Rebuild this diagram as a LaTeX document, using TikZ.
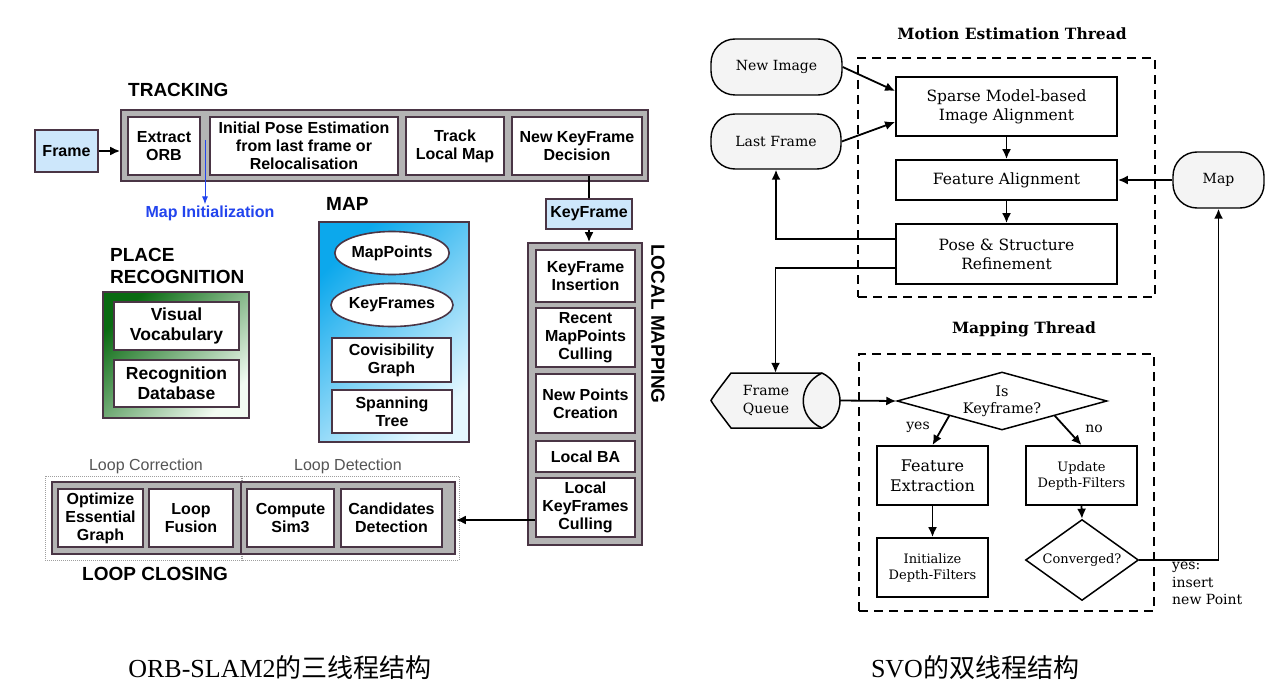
\documentclass[tikz,border=0pt]{standalone}
\usepackage{fontspec}
\setmainfont{Liberation Serif}
\newfontfamily\arial{Liberation Sans}
\newfontfamily\dvs{DejaVu Serif}
\newfontfamily\cjk{Noto Sans CJK SC}
\usetikzlibrary{arrows.meta,shapes.geometric,calc}
\definecolor{bord}{HTML}{4A3545}
\definecolor{cgray}{HTML}{B4B4B4}
\definecolor{kfblue}{HTML}{CDE7FB}
\definecolor{mapblue}{HTML}{0CA8EC}
\definecolor{maplight}{HTML}{E4F7FF}
\definecolor{pgreen}{HTML}{0A6A12}
\definecolor{pglight}{HTML}{F2FBF2}
\definecolor{miblue}{HTML}{2244EE}
\definecolor{lgray}{HTML}{555555}
\definecolor{qfill}{HTML}{F4F4F4}
\newcommand\orbf{\arial\bfseries\fontsize{16}{18}\selectfont}
\newcommand\orbbig{\arial\bfseries\fontsize{17.5}{20}\selectfont}
\newcommand\svof{\dvs\fontsize{15.5}{19}\selectfont}
\newcommand\svosm{\dvs\fontsize{13}{16}\selectfont}
\tikzset{
  cont/.style={draw=bord, line width=1.6pt, fill=cgray, inner sep=0pt},
  obox/.style={draw=bord, line width=1.6pt, fill=white, inner sep=0pt, align=center, font=\orbf},
  bluebox/.style={obox, fill=kfblue},
  ttl/.style={font=\arial\bfseries\fontsize{19}{22}\selectfont, inner sep=0pt, align=left},
  arr/.style={-{Latex[length=10pt,width=9pt]}, line width=2.2pt},
  miarr/.style={-{Latex[length=8pt,width=6pt]}, line width=0.9pt, miblue},
  sbox/.style={draw, line width=1.8pt, fill=white, align=center, inner sep=0pt, font=\svof},
  term/.style={draw, line width=1.4pt, fill=qfill, rounded corners=24pt, align=center, inner sep=0pt, font=\dvs\fontsize{14}{17}\selectfont},
  sarr/.style={-{Latex[length=10pt,width=9pt]}, line width=1.8pt},
  dbox/.style={draw, line width=1.8pt, dash pattern=on 9pt off 6pt, inner sep=0pt},
  dia/.style={diamond, draw, line width=1.5pt, fill=white, inner sep=0pt, align=center, font=\svosm},
  svolbl/.style={font=\dvs\fontsize{14}{17.5}\selectfont, inner sep=0pt, align=left},
  svottl/.style={font=\dvs\bfseries\fontsize{15.5}{18}\selectfont, inner sep=0pt},
  dotbox/.style={draw=gray!75, densely dotted, line width=1pt, inner sep=0pt},
  captxt/.style={font=\fontsize{26}{30}\selectfont, inner sep=0pt}
}
\begin{document}
\begin{tikzpicture}[x=1pt,y=-1pt]
\path[fill=white] (0,0) rectangle (1281,687);
\useasboundingbox (0,0) rectangle (1281,687);

% ================= ORB-SLAM2 =================
% TRACKING
\node[ttl, anchor=west] (tracklbl) at (128,90) {TRACKING};
\node[cont, minimum width=527pt, minimum height=71pt] (track) at (384.5,145.5) {};
\node[obox, minimum width=72pt, minimum height=58pt] (extract) at (164,146) {Extract\\ORB};
\node[obox, minimum width=188pt, minimum height=58pt] (initpose) at (304,146) {Initial Pose Estimation\\from last frame or\\Relocalisation};
\node[obox, minimum width=98pt, minimum height=58pt] (tracklm) at (455,146) {Track\\Local Map};
\node[obox, minimum width=130pt, minimum height=58pt] (nkfd) at (577,146) {New KeyFrame\\Decision};
\node[bluebox, minimum width=63pt, minimum height=42pt] (frame) at (66.5,151) {Frame};
\draw[arr] (frame.east) -- (frame.east -| track.west);

% Map initialization
\coordinate (mi0) at (205,140);
\node[font=\orbf, text=miblue, inner sep=1pt] (mitext) at (210,213) {Map Initialization};
\draw[miarr] (mi0) -- (mi0 |- mitext.north);

% KeyFrame
\node[bluebox, minimum width=86pt, minimum height=30pt] (kf) at (589,214) {KeyFrame};
\draw[line width=2.2pt] (kf.north |- nkfd.south) -- (kf.north);

% LOCAL MAPPING
\node[cont, minimum width=114pt, minimum height=302pt] (lm) at (585,394) {};
\draw[arr] (kf.south) -- (kf.south |- lm.north);
\node[obox, minimum width=99pt, minimum height=52pt] (kfi) at (585.5,276) {KeyFrame\\Insertion};
\node[obox, minimum width=99pt, minimum height=59pt] (rmc) at (585.5,337.5) {Recent\\MapPoints\\Culling};
\node[obox, minimum width=99pt, minimum height=59pt] (npc) at (585.5,403.5) {New Points\\Creation};
\node[obox, minimum width=99pt, minimum height=31pt] (lba) at (585.5,456.5) {Local BA};
\node[obox, minimum width=99pt, minimum height=59pt] (lkc) at (585.5,507.5) {Local\\KeyFrames\\Culling};
\node[ttl, rotate=-90] (lmlbl) at (658,324) {LOCAL MAPPING};

% LOOP CLOSING
\node[dotbox, minimum width=197pt, minimum height=84pt] (lcbox) at (143.5,518) {};
\node[dotbox, minimum width=218pt, minimum height=84pt] (ldbox) at (350,518) {};
\node[cont, minimum width=403pt, minimum height=72pt] (lcgray) at (253.5,518) {};
\draw[bord, line width=1.6pt] (241,482) -- (241,554);
\node[obox, minimum width=85pt, minimum height=58pt] (oeg) at (100.5,518) {Optimize\\Essential\\Graph};
\node[obox, minimum width=84pt, minimum height=58pt] (lf) at (191,518) {Loop\\Fusion};
\node[obox, minimum width=87pt, minimum height=58pt] (cs3) at (290.5,518) {Compute\\Sim3};
\node[obox, minimum width=101pt, minimum height=58pt] (cd) at (391.5,518) {Candidates\\Detection};
\node[font=\arial\fontsize{16}{18}\selectfont, text=lgray, inner sep=0pt] (lclbl) at (146,466) {Loop Correction};
\node[font=\arial\fontsize{16}{18}\selectfont, text=lgray, inner sep=0pt] (ldlbl) at (348,466) {Loop Detection};
\node[ttl, anchor=west] (lclosing) at (82,574) {LOOP CLOSING};
\draw[arr] ([yshift=-12.5pt]lkc.west) -- ([yshift=-12.5pt]lkc.west -| lcgray.east);

% PLACE RECOGNITION
\node[ttl, anchor=west] (prlbl) at (110,266) {PLACE\\RECOGNITION};
\node[draw=bord, line width=1.6pt, top color=pgreen, bottom color=pglight, shading angle=45, minimum width=146pt, minimum height=126pt, inner sep=0pt] (pr) at (176,355) {};
\node[obox, font=\orbbig, minimum width=125pt, minimum height=48pt] (vv) at (176.5,326) {Visual\\Vocabulary};
\node[obox, font=\orbbig, minimum width=125pt, minimum height=47pt] (rd) at (176.5,383.5) {Recognition\\Database};

% MAP
\node[ttl, anchor=west] (maplbl) at (326,204) {MAP};
\node[draw=bord, line width=1.6pt, top color=mapblue, bottom color=maplight, shading angle=45, minimum width=150pt, minimum height=220pt, inner sep=0pt] (mapbox) at (394,332) {};
\node[obox, ellipse, minimum width=113pt, minimum height=43pt] (mp) at (392,253) {MapPoints};
\node[obox, ellipse, minimum width=113pt, minimum height=43pt] (kfe) at (392,305) {KeyFrames};
\node[obox, minimum width=119pt, minimum height=44pt] (cg) at (391.5,360) {Covisibility\\Graph};
\node[obox, minimum width=120pt, minimum height=43pt] (st) at (392,411.5) {Spanning\\Tree};

% ================= SVO =================
\node[svottl] (mttl) at (1012,34) {Motion Estimation Thread};
\node[dbox, minimum width=297pt, minimum height=239pt] (mbox) at (1006.5,177.5) {};
\node[term, minimum width=131pt, minimum height=56pt] (newimg) at (776.5,67) {New Image};
\node[term, minimum width=130pt, minimum height=55pt] (lastfr) at (776,141.5) {Last Frame};
\node[sbox, minimum width=221pt, minimum height=59pt] (smba) at (1006.5,106.5) {Sparse Model-based\\Image Alignment};
\node[sbox, minimum width=221pt, minimum height=40pt] (fa) at (1006.5,180) {Feature Alignment};
\node[sbox, minimum width=221pt, minimum height=60pt] (psr) at (1006.5,254) {Pose \& Structure\\Refinement};
\node[term, minimum width=91pt, minimum height=56pt] (svomap) at (1218.5,180) {Map};

\draw[sarr] (newimg.east) -- ([yshift=15.5pt]smba.west);
\draw[sarr] (lastfr.east) -- ([yshift=-15.5pt]smba.west);
\draw[sarr] (smba.south) -- (fa.north);
\draw[sarr] (fa.south) -- (psr.north);
\draw[sarr] (svomap.west) -- (fa.east);
\draw[sarr] ([yshift=15pt]psr.west) -| (lastfr.south);

% Mapping thread
\node[svottl] (mapttl) at (1024,329) {Mapping Thread};
\node[dbox, minimum width=295pt, minimum height=257pt] (mapdbox) at (1006.5,482.5) {};
\node[minimum width=129pt, minimum height=55pt, inner sep=0pt] (fq) at (775.5,400.5) {};
\path[draw, line width=1.5pt, fill=qfill] (731,373) -- (822,373)
  .. controls (846,385) and (846,417) .. (822,428) -- (731,428)
  .. controls (722,416) and (714,406) .. (711,400.5)
  .. controls (714,395) and (722,385) .. (731,373) -- cycle;
\draw[line width=1.5pt] (822,373) .. controls (797,385) and (797,417) .. (822,428);
\node[svolbl, align=center] (fqtxt) at (766,400.5) {Frame\\Queue};
\draw[sarr] ([yshift=-14pt]psr.west) -| (fq.north);

\node[dia, font=\dvs\fontsize{14.5}{17}\selectfont, aspect=3.62, minimum width=210pt, minimum height=58pt] (iskf) at (1002,401) {Is\\Keyframe?};
\draw[sarr] (fq.east) -- (iskf.west);
\node[sbox, font=\dvs\fontsize{16}{20}\selectfont, minimum width=111pt, minimum height=59pt] (feat) at (932.5,475.5) {Feature\\Extraction};
\node[sbox, font=\svosm, minimum width=111pt, minimum height=59pt] (init) at (932.5,567.5) {Initialize\\Depth-Filters};
\node[sbox, font=\svosm, minimum width=111pt, minimum height=59pt] (upd) at (1081.5,475.5) {Update\\Depth-Filters};
\node[dia, aspect=1.4, minimum width=113pt, minimum height=81pt] (conv) at (1082,560) {Converged?};
\draw[sarr] (iskf.south west) -- (feat.north);
\draw[sarr] (iskf.south east) -- (upd.north);
\draw[sarr] (feat.south) -- (init.north);
\draw[sarr] (upd.south) -- (conv.north);
\draw[sarr] (conv.east) -| (svomap.south);
\node[svolbl] (yeslbl) at (918,427) {yes};
\node[svolbl] (nolbl) at (1094,429) {no};
\node[svolbl, anchor=north west] (yesins) at (1172,562) {yes:\\insert\\new Point};

% Captions
\node[captxt] (cap1) at (280,668) {ORB-SLAM2{\cjk 的三线程结构}};
\node[captxt] (cap2) at (975,668) {SVO{\cjk 的双线程结构}};
\end{tikzpicture}
\end{document}
